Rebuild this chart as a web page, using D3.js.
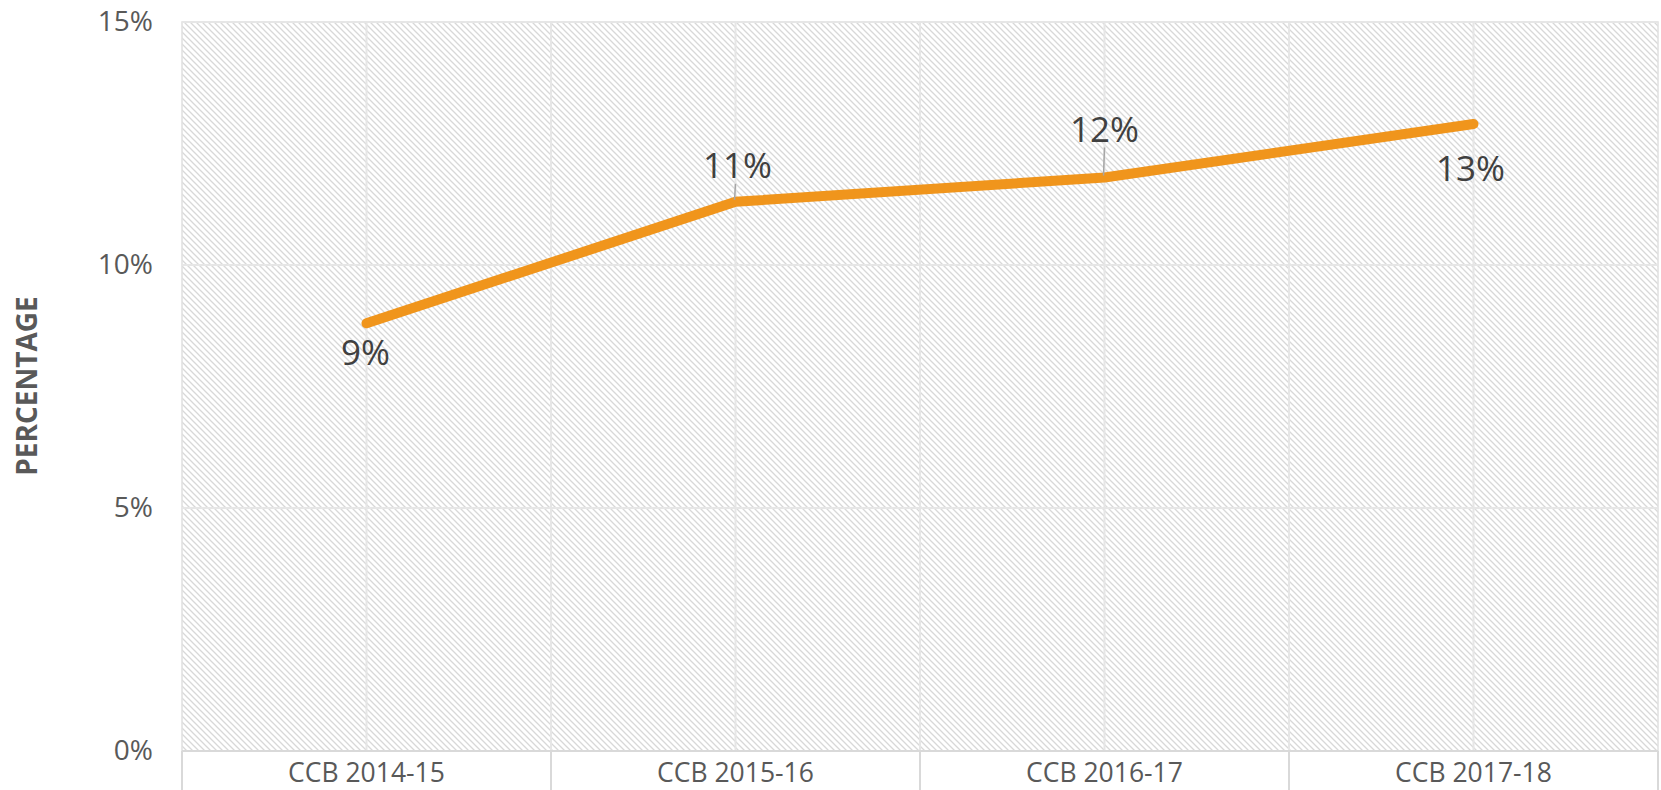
<!DOCTYPE html>
<html>
<head>
<meta charset="utf-8">
<script src="https://cdn.jsdelivr.net/npm/d3@7/dist/d3.min.js"></script>
<style>
  body { margin: 0; background: #fff; }
  svg { display: block; font-family: "Open Sans", sans-serif; }
</style>
</head>
<body>
<div id="chart"></div>
<script>
// data
var categories = ['CCB 2014-15', 'CCB 2015-16', 'CCB 2016-17', 'CCB 2017-18'];
var values = [8.8, 11.3, 11.8, 12.9];
var valueLabels = ['9%', '11%', '12%', '13%'];
var yTicks = [0, 5, 10, 15];

// where each data label sits relative to its point (px, baseline)
var labelDy = [42, -24, -36, 57];
var labelDx = [-1, 2, 0, -3];

var width = 1661;
var height = 790;
var plot = { left: 182, right: 1658, top: 22, bottom: 751 };

var svg = d3.select('#chart')
  .append('svg')
  .attr('width', width)
  .attr('height', height);

// hatch fill of the plot area
var defs = svg.append('defs');
var pat = defs.append('pattern')
  .attr('id', 'hatch')
  .attr('patternUnits', 'userSpaceOnUse')
  .attr('width', 6)
  .attr('height', 6);
pat.append('rect').attr('width', 6).attr('height', 6).attr('fill', '#fff');
pat.append('path')
  .attr('d', 'M-1,-1 L7,7 M-4,2 L2,8 M2,-4 L8,2')
  .attr('stroke', '#d8d8d8')
  .attr('stroke-width', 1.3);

var x = d3.scaleBand()
  .domain(categories)
  .range([plot.left, plot.right]);

var y = d3.scaleLinear()
  .domain([0, 15])
  .range([plot.bottom, plot.top]);

svg.append('rect')
  .attr('x', plot.left)
  .attr('y', plot.top)
  .attr('width', plot.right - plot.left)
  .attr('height', plot.bottom - plot.top)
  .attr('fill', 'url(#hatch)')
  .attr('stroke', '#e0e0e0')
  .attr('stroke-width', 1.5);

// horizontal gridlines
svg.append('g')
  .selectAll('line')
  .data(yTicks.slice(1))
  .enter()
    .append('line')
    .attr('x1', plot.left)
    .attr('x2', plot.right)
    .attr('y1', function(d) { return y(d); })
    .attr('y2', function(d) { return y(d); })
    .attr('stroke', '#e6e6e6')
    .attr('stroke-width', 2);

// vertical gridlines, at the centres and the edges of every category
var vLines = [];
categories.forEach(function(c, i) {
  vLines.push(x(c) + x.bandwidth() / 2);
  if (i > 0) vLines.push(x(c));
});
svg.append('g')
  .selectAll('line')
  .data(vLines)
  .enter()
    .append('line')
    .attr('x1', function(d) { return d; })
    .attr('x2', function(d) { return d; })
    .attr('y1', plot.top)
    .attr('y2', plot.bottom)
    .attr('stroke', '#e6e6e6')
    .attr('stroke-width', 2);

// y axis labels
var yAxis = svg.append('g')
  .attr('transform', 'translate(' + plot.left + ',0)')
  .call(d3.axisLeft(y).tickValues(yTicks).tickSize(0).tickPadding(29)
    .tickFormat(function(d) { return d + '%'; }));
yAxis.select('.domain').remove();
yAxis.selectAll('text')
  .attr('fill', '#595959')
  .style('font-size', '28px')
  .style('font-family', '"Open Sans", sans-serif');

// x axis with ticks between categories
svg.append('line')
  .attr('x1', plot.left)
  .attr('x2', plot.right)
  .attr('y1', plot.bottom)
  .attr('y2', plot.bottom)
  .attr('stroke', '#d9d9d9')
  .attr('stroke-width', 2);

var edges = categories.map(function(c) { return x(c); }).concat([plot.right]);
svg.append('g')
  .selectAll('line')
  .data(edges)
  .enter()
    .append('line')
    .attr('x1', function(d) { return d; })
    .attr('x2', function(d) { return d; })
    .attr('y1', plot.bottom)
    .attr('y2', height)
    .attr('stroke', '#d9d9d9')
    .attr('stroke-width', 2);

svg.append('g')
  .selectAll('text')
  .data(categories)
  .enter()
    .append('text')
    .attr('x', function(d) { return x(d) + x.bandwidth() / 2; })
    .attr('y', plot.bottom + 31)
    .attr('text-anchor', 'middle')
    .attr('fill', '#595959')
    .style('font-size', '26.5px')
    .text(function(d) { return d; });

// axis title
svg.append('text')
  .attr('transform', 'translate(37,386) rotate(-90)')
  .attr('text-anchor', 'middle')
  .attr('fill', '#595959')
  .style('font-size', '28px')
  .style('font-weight', 'bold')
  .text('PERCENTAGE');

// the line
var points = categories.map(function(c, i) {
  return { cat: c, value: values[i], label: valueLabels[i], dy: labelDy[i], dx: labelDx[i] };
});

var line = d3.line()
  .x(function(d) { return x(d.cat) + x.bandwidth() / 2; })
  .y(function(d) { return y(d.value); });

svg.append('path')
  .datum(points)
  .attr('d', line)
  .attr('fill', 'none')
  .attr('stroke', '#f0951c')
  .attr('stroke-width', 10)
  .attr('stroke-linecap', 'round')
  .attr('stroke-linejoin', 'round');

// leader lines for labels above the line
svg.append('g')
  .selectAll('line')
  .data(points.filter(function(d) { return d.dy < 0; }))
  .enter()
    .append('line')
    .attr('x1', function(d) { return x(d.cat) + x.bandwidth() / 2; })
    .attr('x2', function(d) { return x(d.cat) + x.bandwidth() / 2 - 1; })
    .attr('y1', function(d) { return y(d.value) + d.dy + 6; })
    .attr('y2', function(d) { return y(d.value) - 2; })
    .attr('stroke', '#a6a6a6')
    .attr('stroke-width', 1.5);

svg.append('g')
  .selectAll('text')
  .data(points)
  .enter()
    .append('text')
    .attr('x', function(d) { return x(d.cat) + x.bandwidth() / 2 + d.dx; })
    .attr('y', function(d) { return y(d.value) + d.dy; })
    .attr('text-anchor', 'middle')
    .attr('fill', '#404040')
    .style('font-size', '35px')
    .text(function(d) { return d.label; });
</script>
</body>
</html>
